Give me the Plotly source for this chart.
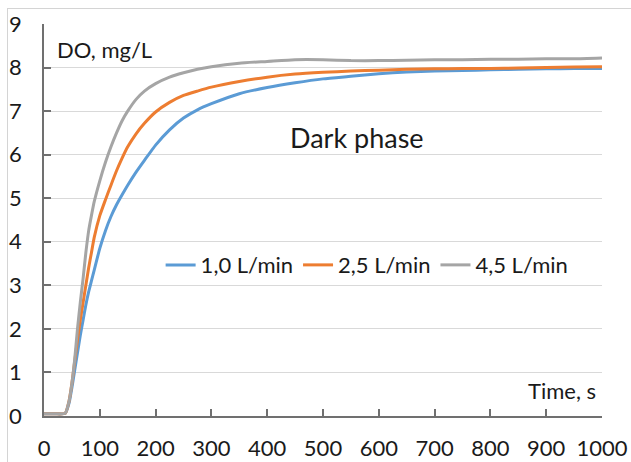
import plotly.graph_objects as go

time_s = [0, 20, 38, 45, 50, 55, 60, 65, 70, 75, 80, 85, 90, 100, 110, 120, 130, 140, 150, 165,
          180, 200, 225, 250, 275, 300, 350, 400, 450, 500, 550, 600, 650, 700, 750, 800, 850,
          900, 950, 1000]

do_1_0 = [0.05, 0.05, 0.06, 0.30, 0.65, 1.05, 1.45, 1.85, 2.20, 2.55, 2.85, 3.10, 3.35, 3.85, 4.25,
          4.58, 4.85, 5.08, 5.30, 5.60, 5.87, 6.22, 6.57, 6.84, 7.03, 7.17, 7.40, 7.54, 7.65, 7.74,
          7.80, 7.86, 7.90, 7.92, 7.93, 7.95, 7.96, 7.97, 7.98, 7.98]

do_2_5 = [0.05, 0.05, 0.06, 0.35, 0.75, 1.25, 1.75, 2.20, 2.60, 3.00, 3.40, 3.75, 4.10, 4.60, 4.96,
          5.30, 5.63, 5.92, 6.18, 6.48, 6.72, 6.98, 7.20, 7.36, 7.46, 7.55, 7.68, 7.78, 7.85, 7.89,
          7.92, 7.94, 7.96, 7.97, 7.98, 7.98, 7.99, 8.00, 8.01, 8.02]

do_4_5 = [0.05, 0.05, 0.06, 0.35, 0.75, 1.30, 2.00, 2.60, 3.15, 3.75, 4.25, 4.60, 4.92, 5.40, 5.82,
          6.18, 6.50, 6.78, 7.00, 7.27, 7.46, 7.63, 7.78, 7.88, 7.96, 8.02, 8.10, 8.14, 8.18, 8.18,
          8.16, 8.16, 8.17, 8.18, 8.18, 8.19, 8.19, 8.20, 8.20, 8.22]

series_names = ["1,0 L/min", "2,5 L/min", "4,5 L/min"]
series_values = [do_1_0, do_2_5, do_4_5]
series_colors = ["#5B9BD5", "#ED7D31", "#A5A5A5"]

x_ticks = [0, 100, 200, 300, 400, 500, 600, 700, 800, 900, 1000]
y_ticks = [0, 1, 2, 3, 4, 5, 6, 7, 8, 9]

FONT = "Lato, 'Open Sans', sans-serif"
TXT = "#1a1a1a"
FS = 22

fig = go.Figure()
for name, vals, col in zip(series_names, series_values, series_colors):
    fig.add_trace(go.Scatter(x=time_s, y=vals, mode="lines", name=name,
                             line=dict(color=col, width=3, shape="spline", smoothing=0.5)))

fig.update_layout(
    width=631, height=462,
    margin=dict(l=44, r=29, t=24, b=46, autoexpand=False),
    paper_bgcolor="white", plot_bgcolor="white",
    font=dict(family=FONT, size=FS, color=TXT),
    showlegend=True,
    legend=dict(orientation="h", x=0.209, y=0.385, xanchor="left", yanchor="middle",
                font=dict(size=FS, color=TXT), bgcolor="rgba(0,0,0,0)",
                itemwidth=30, tracegroupgap=0),
)
fig.update_xaxes(range=[0, 1000], tickvals=x_ticks, showgrid=False, zeroline=False,
                 showline=True, linecolor="#707070", linewidth=1.5, automargin=False,
                 ticks="inside", ticklen=7, tickcolor="#707070", tickwidth=1.5,
                 tickfont=dict(size=FS, color=TXT), ticklabelstandoff=12)
fig.update_yaxes(range=[0, 9], tickvals=y_ticks, showgrid=True, gridcolor="#d9d9d9", gridwidth=1,
                 zeroline=False, showline=True, linecolor="#707070", linewidth=1.5, automargin=False,
                 ticks="inside", ticklen=7, tickcolor="#707070", tickwidth=1.5,
                 tickfont=dict(size=FS, color=TXT), ticklabelstandoff=16)

fig.add_annotation(text="DO, mg/L", xref="paper", yref="paper", x=0.0197, y=0.934,
                   xanchor="left", yanchor="middle", showarrow=False,
                   font=dict(size=FS, color=TXT, family=FONT))
fig.add_annotation(text="Dark phase", xref="paper", yref="paper", x=0.5618, y=0.7117,
                   xanchor="center", yanchor="middle", showarrow=False,
                   font=dict(size=27, color=TXT, family=FONT))
fig.add_annotation(text="Time, s", xref="paper", yref="paper", x=0.9928, y=0.0638,
                   xanchor="right", yanchor="middle", showarrow=False,
                   font=dict(size=FS, color=TXT, family=FONT))

# page tweaks: no body margin, and the light chart-area frame (top/left edges) seen in the reference
post_js = (
    "document.body.style.margin='0';document.body.style.overflow='hidden';"
    "var fr=document.createElement('div');"
    "fr.style.cssText='position:absolute;left:7px;top:8px;width:700px;height:600px;"
    "border-left:1.5px solid #d4d4d4;border-top:1.5px solid #d4d4d4;pointer-events:none;z-index:10;';"
    "document.body.appendChild(fr);"
)

fig.write_html("out.html", config={"displayModeBar": False}, post_script=post_js)
